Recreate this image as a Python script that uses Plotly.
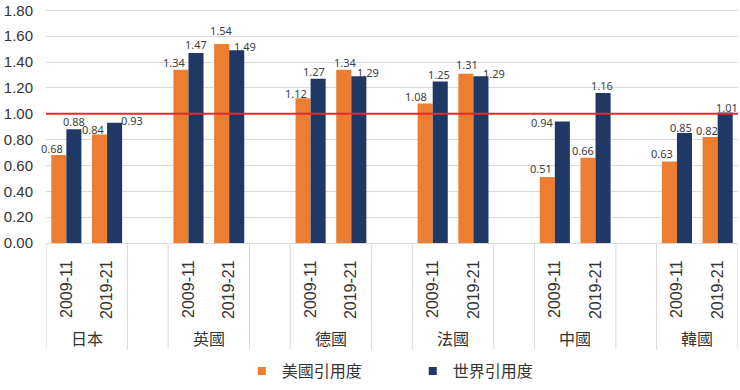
import plotly.graph_objects as go

# ---------------- data ----------------
countries = ["日本", "英國", "德國", "法國", "中國", "韓國"]
periods = ["2009-11", "2019-21"]
series_names = ["美國引用度", "世界引用度"]
# values per country, in period order
us_citation = [0.68, 0.84, 1.34, 1.54, 1.12, 1.34, 1.08, 1.31, 0.51, 0.66, 0.63, 0.82]
world_citation = [0.88, 0.93, 1.47, 1.49, 1.27, 1.29, 1.25, 1.29, 0.94, 1.16, 0.85, 1.01]
y_tick_values = [0.0, 0.2, 0.4, 0.6, 0.8, 1.0, 1.2, 1.4, 1.6, 1.8]
reference_level = 1.0

# ---------------- style ----------------
COLORS = ["#ED7D31", "#1F3864"]
GRID = "#D9D9D9"
TEXT = "#333333"
BARGAP = 0.26
# pixel nudges for the value labels (dx, dy above bar top), per series
LABEL_NUDGE = [
    [(-7, 7), (-6, 5), (-6, 7), (0, 13), (-7, 5), (2, 7), (-9, 7), (1, 9), (-6, 9), (-5, 7), (-7, 8), (-3, 6)],
    [(0, 8), (17, 2), (0, 8), (8, 4), (-4, 7), (9, 4), (-1, 7), (13, 3), (-20, -1), (-1, 8), (-3, 6), (2, 5)],
]

n_per = len(periods)
slot = n_per + 1  # one blank slot between countries
positions = [ci * slot + pi for ci in range(len(countries)) for pi in range(n_per)]
n_slots = len(countries) * slot - 1

fig = go.Figure()
for name, vals, color in zip(series_names, [us_citation, world_citation], COLORS):
    fig.add_trace(go.Bar(x=positions, y=vals, name=name, marker_color=color,
                         marker_line_width=0, showlegend=False))
    fig.add_trace(go.Scatter(x=[None], y=[None], mode="markers", name=name,
                             marker=dict(symbol="square", size=8, color=color)))

half = (1 - BARGAP) / 4
annotations = []
for si, vals in enumerate([us_citation, world_citation]):
    sign = -1 if si == 0 else 1
    for k, (x, v) in enumerate(zip(positions, vals)):
        dx, dy = LABEL_NUDGE[si][k]
        annotations.append(dict(x=x + sign * half, y=v, xref="x", yref="y",
                                text=f"{v:.2f}", showarrow=False, yanchor="middle",
                                xshift=dx, yshift=dy,
                                font=dict(family="Noto Sans", size=11, color="#404040")))

for ci, c in enumerate(countries):
    annotations.append(dict(x=ci * slot + (n_per - 1) / 2, y=-0.405, xref="x", yref="paper",
                            text=c, showarrow=False, yanchor="middle",
                            font=dict(family="Noto Sans CJK TC", size=16, color=TEXT)))

shapes = []
for ci in range(len(countries)):
    for xb in (ci * slot - 0.5, ci * slot + n_per - 0.5):
        shapes.append(dict(type="line", xref="x", yref="paper", x0=xb, x1=xb, y0=0, y1=-0.455,
                           line=dict(color=GRID, width=1), layer="below"))
shapes.append(dict(type="line", xref="paper", yref="y", x0=0, x1=1, y0=reference_level,
                   y1=reference_level, line=dict(color="#E8282E", width=2), layer="above"))

fig.update_layout(
    width=740, height=390,
    margin=dict(l=46, r=2, t=6, b=147),
    paper_bgcolor="white", plot_bgcolor="white",
    barmode="group", bargap=BARGAP, bargroupgap=0,
    annotations=annotations, shapes=shapes,
    legend=dict(orientation="h", x=0.53, xanchor="center", y=-0.547, yanchor="middle",
                font=dict(family="Noto Sans CJK TC", size=16, color=TEXT),
                entrywidth=126, entrywidthmode="pixels"),
    font=dict(family="Liberation Sans, Arial", color=TEXT),
)
fig.update_xaxes(range=[-0.5, n_slots - 0.5], tickvals=positions,
                 ticktext=[p for _ in countries for p in periods], tickangle=-90,
                 tickfont=dict(family="Liberation Sans, Arial", size=16, color=TEXT),
                 showgrid=False, showline=True, linecolor=GRID, linewidth=1,
                 ticks="", ticklabelstandoff=10, zeroline=False, fixedrange=True)
fig.update_yaxes(range=[0, 1.81], tickvals=y_tick_values,
                 ticktext=[f"{v:.2f}" for v in y_tick_values],
                 tickfont=dict(family="Liberation Sans, Arial", size=15, color=TEXT),
                 showgrid=True, gridcolor=GRID, gridwidth=1, zeroline=False,
                 showline=False, ticks="", ticklabelstandoff=12, fixedrange=True,
                 ticklabeloverflow="allow")

fig.write_html("out.html", config={"displayModeBar": False},
               post_script="document.body.style.margin='0';")
